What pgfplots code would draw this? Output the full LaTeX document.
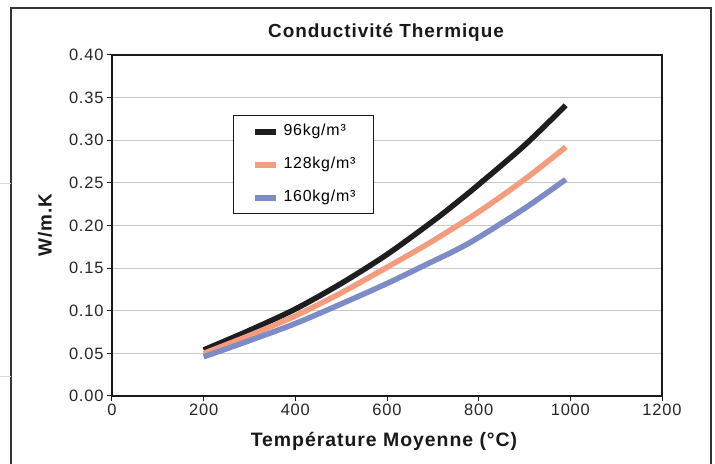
\documentclass[border=0pt]{standalone}
\usepackage{pgfplots}
\pgfplotsset{compat=1.18}
\usepackage{fontspec}
\setmainfont{Liberation Sans}
\newfontfamily\spfont[LetterSpace=5]{Liberation Sans}
\definecolor{c96}{HTML}{1E1E1E}
\definecolor{c128}{HTML}{F59C7E}
\definecolor{c160}{HTML}{7D8BC7}
\begin{document}
\begin{tikzpicture}[x=1bp,y=1bp]
\useasboundingbox (-112,-68) rectangle (603,396);
\draw[black!80, line width=1.5bp] (-101,-100) -- (-101,388) -- (599,388) -- (599,-100);
\draw[black!15, line width=1bp] (-112,212) -- (-101,212);
\draw[black!15, line width=1bp] (-112,19) -- (-101,19);
\begin{axis}[
  at={(0bp,0bp)}, anchor=south west,
  scale only axis, width=550bp, height=341bp,
  xmin=0, xmax=1200, ymin=0, ymax=0.4,
  xtick={0,200,400,600,800,1000,1200},
  ytick={0,0.05,0.10,0.15,0.20,0.25,0.30,0.35,0.40},
  scaled y ticks=false,
  x tick label style={/pgf/number format/.cd, 1000 sep={}},
  y tick label style={/pgf/number format/.cd, fixed, fixed zerofill, precision=2},
  /pgf/number format/assume math mode=true,
  tick label style={font=\spfont\fontsize{16.5}{18}\selectfont, black!85},
  ymajorgrids,
  grid style={color=black!22, line width=1bp},
  axis line style={line width=2.2bp, black!90},
  tick style={black!90, line width=1bp},
  tick align=outside, major tick length=5bp,
  xtick pos=left, ytick pos=left,
  legend style={at={(0.22,0.824)}, anchor=north west, draw=black!90, line width=1bp,
    inner xsep=18bp, inner ysep=9bp, row sep=19bp, column sep=5bp,
    font=\spfont\fontsize{16}{18}\selectfont,
    nodes={inner sep=0pt, text height=11bp, text depth=3bp}},
  legend cell align=left,
  legend image code/.code={\draw[line width=6bp, line cap=butt] (0bp,0bp) -- (21bp,0bp);},
]
\addplot[c96, line width=5.5bp, line cap=butt, line join=round, smooth] coordinates {
(200,0.054) (300,0.077) (400,0.102) (500,0.132) (600,0.166) (700,0.205) (750,0.226) (800,0.248) (900,0.294) (990,0.341)};
\addlegendentry{96kg/m³}
\addplot[c128, line width=5.5bp, line cap=butt, line join=round, smooth] coordinates {
(200,0.050) (300,0.071) (400,0.094) (500,0.121) (600,0.151) (700,0.182) (800,0.216) (900,0.254) (990,0.292)};
\addlegendentry{128kg/m³}
\addplot[c160, line width=5.5bp, line cap=butt, line join=round, smooth] coordinates {
(200,0.046) (300,0.065) (400,0.085) (500,0.108) (600,0.132) (700,0.158) (750,0.171) (800,0.186) (900,0.220) (990,0.254)};
\addlegendentry{160kg/m³}
\end{axis}
\node[font=\spfont\bfseries\fontsize{19}{21}\selectfont, black!90] at (274,363) {Conductivité Thermique};
\node[font=\spfont\bfseries\fontsize{19.5}{21}\selectfont, black!90] at (272,-45) {Température Moyenne (°C)};
\node[font=\spfont\bfseries\fontsize{19}{21}\selectfont, black!90, rotate=90] at (-67,171) {W/m.K};
\end{tikzpicture}
\end{document}
